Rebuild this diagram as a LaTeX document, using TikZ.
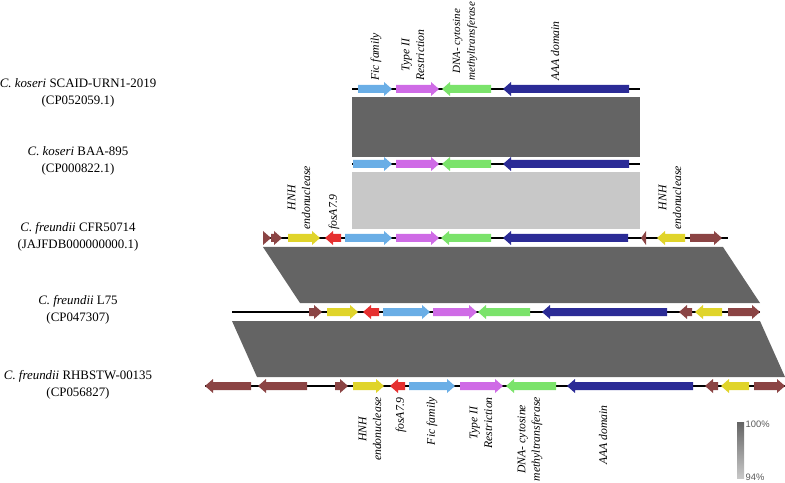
\documentclass[tikz,border=0pt]{standalone}
\usepackage{fontspec}
\setmainfont{Liberation Serif}
\setsansfont{Liberation Sans}
\usepackage{tikz}
\usetikzlibrary{positioning, calc}
\usepackage{xcolor}
\definecolor{ficblue}{HTML}{6AAEE6}
\definecolor{typemag}{HTML}{CF6BE6}
\definecolor{dnagreen}{HTML}{7BE36B}
\definecolor{aaanavy}{HTML}{2B2B96}
\definecolor{hnhyellow}{HTML}{E0D42A}
\definecolor{fosred}{HTML}{E63030}
\definecolor{mobbrown}{HTML}{8B4444}
\definecolor{bandhigh}{HTML}{646464}
\definecolor{bandlow}{HTML}{C8C8C8}

% gene arrow: tail x, tip x, row y, colour
\newcommand{\genearrow}[4]{%
  \pgfmathsetmacro{\gnDir}{sign(#2-#1)}%
  \pgfmathsetmacro{\gnNeck}{#2-\gnDir*min(8,abs(#2-#1))}%
  \fill[#4] (#1,#3-4) -- (\gnNeck,#3-4) -- (\gnNeck,#3-7) -- (#2,#3)
    -- (\gnNeck,#3+7) -- (\gnNeck,#3+4) -- (#1,#3+4) -- cycle;}

\begin{document}
\begin{tikzpicture}[x=0.03cm, y=-0.03cm,
    strain/.style={align=center, font=\fontsize{11}{14}\selectfont, inner sep=0pt},
    genelab/.style={rotate=90, align=center, font=\fontsize{10}{12.5}\selectfont\itshape, inner sep=0pt},
    contig/.style={line width=1.4pt},
    legendlab/.style={font=\sffamily\fontsize{8}{9}\selectfont, text=black!65, inner sep=0pt}]
  \useasboundingbox (0,0) rectangle (785,483);

  % identity bands
  \fill[bandhigh] (352,97) rectangle (640,157);
  \fill[bandlow] (352,172) rectangle (640,229);
  \fill[bandhigh] (263,247) -- (723,247) -- (760,303) -- (300,303) -- cycle;
  \fill[bandhigh] (232,321) -- (760,321) -- (785,377) -- (257,377) -- cycle;

  % strains
  \node[strain] (s1) at (78,93) {\textit{C. koseri} SCAID-URN1-2019\\(CP052059.1)};
  \node[strain] (s2) at (78,161) {\textit{C. koseri} BAA-895\\(CP000822.1)};
  \node[strain] (s3) at (78,237) {\textit{C. freundii} CFR50714\\(JAJFDB000000000.1)};
  \node[strain] (s4) at (78,310) {\textit{C. freundii} L75\\(CP047307)};
  \node[strain] (s5) at (78,385) {\textit{C. freundii} RHBSTW-00135\\(CP056827)};

  % contigs
  \draw[contig] (352,89) -- (640,89);
  \draw[contig] (352,164) -- (640,164);
  \draw[contig] (263,238) -- (728,238);
  \draw[contig] (232,312) -- (760,312);
  \draw[contig] (205,386) -- (785,386);

  % row 1
  \genearrow{358}{392}{89}{ficblue}
  \genearrow{396}{439}{89}{typemag}
  \genearrow{491}{442}{89}{dnagreen}
  \genearrow{629}{503}{89}{aaanavy}
  % row 2
  \genearrow{353}{392}{164}{ficblue}
  \genearrow{396}{439}{164}{typemag}
  \genearrow{491}{442}{164}{dnagreen}
  \genearrow{629}{503}{164}{aaanavy}
  % row 3
  \genearrow{263}{271}{238}{mobbrown}
  \genearrow{271}{282}{238}{mobbrown}
  \genearrow{288}{320}{238}{hnhyellow}
  \genearrow{341}{325}{238}{fosred}
  \genearrow{345}{392}{238}{ficblue}
  \genearrow{396}{439}{238}{typemag}
  \genearrow{491}{441}{238}{dnagreen}
  \genearrow{628}{503}{238}{aaanavy}
  \genearrow{646}{641}{238}{mobbrown}
  \genearrow{685}{657}{238}{hnhyellow}
  \genearrow{690}{722}{238}{mobbrown}
  % row 4
  \genearrow{309}{322}{312}{mobbrown}
  \genearrow{327}{358}{312}{hnhyellow}
  \genearrow{379}{363}{312}{fosred}
  \genearrow{383}{430}{312}{ficblue}
  \genearrow{433}{477}{312}{typemag}
  \genearrow{530}{478}{312}{dnagreen}
  \genearrow{667}{542}{312}{aaanavy}
  \genearrow{692}{679}{312}{mobbrown}
  \genearrow{722}{695}{312}{hnhyellow}
  \genearrow{728}{760}{312}{mobbrown}
  % row 5
  \genearrow{251}{205}{386}{mobbrown}
  \genearrow{307}{258}{386}{mobbrown}
  \genearrow{335}{348}{386}{mobbrown}
  \genearrow{353}{384}{386}{hnhyellow}
  \genearrow{405}{390}{386}{fosred}
  \genearrow{409}{455}{386}{ficblue}
  \genearrow{460}{503}{386}{typemag}
  \genearrow{556}{506}{386}{dnagreen}
  \genearrow{693}{567}{386}{aaanavy}
  \genearrow{718}{705}{386}{mobbrown}
  \genearrow{749}{721}{386}{hnhyellow}
  \genearrow{754}{785}{386}{mobbrown}

  % gene names, top
  \node[genelab, anchor=west] (tfic) at (376,81) {Fic family};
  \node[genelab, anchor=west] (ttype) at (413,81) {Type II\\Restriction};
  \node[genelab, anchor=west, font=\fontsize{9.4}{12.5}\selectfont\itshape] (tdna) at (465,81) {DNA- cytosine\\methyltransferase};
  \node[genelab, anchor=west] (taaa) at (555,81) {AAA domain};
  \node[genelab, anchor=west] (thnh) at (299,230) {HNH\\endonuclease};
  \node[genelab, anchor=west] (tfos) at (334,230) {fosA7.9};
  \node[genelab, anchor=west] (thnhr) at (670,230) {HNH\\endonuclease};

  % gene names, bottom
  \node[genelab, anchor=east] (bhnh) at (370,397) {HNH\\endonuclease};
  \node[genelab, anchor=east] (bfos) at (401,397) {fosA7.9};
  \node[genelab, anchor=east] (bfic) at (432,397) {Fic family};
  \node[genelab, anchor=east] (btype) at (481,397) {Type II\\Restriction};
  \node[genelab, anchor=east] (bdna) at (530,397) {DNA- cytosine\\methyltransferase};
  \node[genelab, anchor=east] (baaa) at (603,405) {AAA domain};

  % identity scale
  \node[top color=bandhigh, bottom color=bandlow, minimum width=0.21cm, minimum height=1.68cm, inner sep=0pt] (scalebar) at (740.5,450) {};
  \node[legendlab, anchor=west] (ptop) at ([xshift=1pt, yshift=-2pt]scalebar.north east) {100\%};
  \node[legendlab, anchor=west] (pbot) at ([xshift=1pt, yshift=1pt]scalebar.south east) {94\%};
\end{tikzpicture}
\end{document}
